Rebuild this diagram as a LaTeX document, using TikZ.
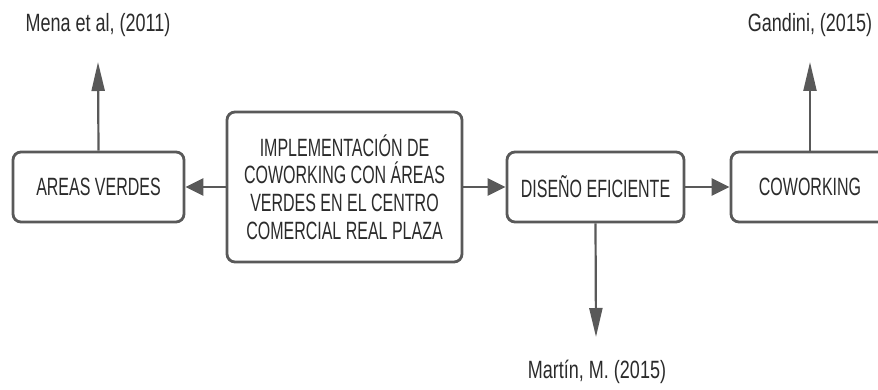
\documentclass[tikz,border=0pt]{standalone}
\usepackage{fontspec}
\setmainfont[FakeStretch=0.64]{Liberation Sans}
\newfontfamily\labfont[FakeStretch=0.72]{Liberation Sans}
\usetikzlibrary{arrows.meta}
\definecolor{edge}{HTML}{595959}
\definecolor{ink}{HTML}{2B2B2B}
\tikzset{
  box/.style={draw=edge, line width=2.8pt, rounded corners=8pt, fill=white,
    text=ink, align=center, inner sep=0pt, font=\fontsize{25}{27.7}\selectfont},
  arrh/.style={draw=edge, line width=2.8pt, -{Triangle[length=18pt,width=17pt]}},
  arrv/.style={draw=edge, line width=2.2pt, -{Triangle[length=29pt,width=13pt]}},
  ref/.style={text=ink, inner sep=0pt, font=\labfont\fontsize{25}{28}\selectfont}
}
\begin{document}
\begin{tikzpicture}[x=1pt,y=-1pt]
\useasboundingbox (0,0) rectangle (878,390);
\node[box, minimum width=171pt, minimum height=70pt] (areas) at (98.5,187) {AREAS VERDES};
\node[box, minimum width=235pt, minimum height=150pt] (main) at (344.5,187)
  {IMPLEMENTACIÓN DE\\COWORKING CON ÁREAS\\VERDES EN EL CENTRO\\COMERCIAL REAL PLAZA};
\node[box, minimum width=177pt, minimum height=70pt] (diseno) at (595.5,187) {DISEÑO EFICIENTE};
\node[box, minimum width=158pt, minimum height=70pt] (cow) at (810,187) {COWORKING};
\node[ref] (mena) at (98,25) {Mena et al, (2011)};
\node[ref] (gandini) at (810,25) {Gandini, (2015)};
\node[ref] (martin) at (597,372) {Martín, M. (2015)};
\coordinate (menaT) at (98,62);
\coordinate (gandT) at (810,62);
\coordinate (martT) at (596,337);
\draw[arrh] (main.west) -- (areas.east);
\draw[arrh] (main.east) -- (diseno.west);
\draw[arrh] (diseno.east) -- (cow.west);
\draw[arrv] (areas.north) -- (menaT);
\draw[arrv] (cow.north) -- (gandT);
\draw[arrv] (diseno.south) -- (martT);
\end{tikzpicture}
\end{document}
